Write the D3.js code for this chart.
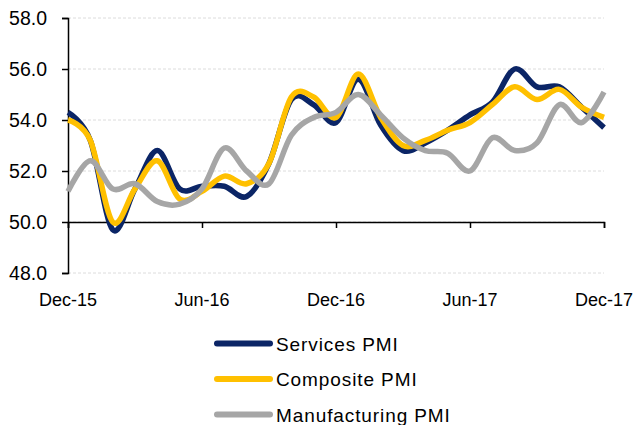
<!DOCTYPE html>
<html>
<head>
<meta charset="utf-8">
<script src="https://cdn.jsdelivr.net/npm/d3@7"></script>
<style>
  body { margin: 0; background: #fff; }
  text { font-family: Arial, "Liberation Sans", sans-serif; fill: #000; }
</style>
</head>
<body>
<div id="chart"></div>
<script>

// months shown on the x axis
var months = ['Dec-15','Jan-16','Feb-16','Mar-16','Apr-16','May-16','Jun-16','Jul-16','Aug-16','Sep-16','Oct-16','Nov-16',
              'Dec-16','Jan-17','Feb-17','Mar-17','Apr-17','May-17','Jun-17','Jul-17','Aug-17','Sep-17','Oct-17','Nov-17','Dec-17']
var tickLabels = ['Dec-15','Jun-16','Dec-16','Jun-17','Dec-17']
var yTicks = [48, 50, 52, 54, 56, 58]

// series values
var services      = [54.3,53.2,49.7,51.3,52.8,51.3,51.4,51.4,51.0,52.3,54.8,54.6,53.9,55.6,53.8,52.8,53.1,53.6,54.2,54.7,56.0,55.3,55.3,54.5,53.7]
var composite     = [54.0,53.2,50.0,51.3,52.4,50.9,51.2,51.8,51.5,52.3,54.9,54.9,54.1,55.8,54.1,53.0,53.2,53.6,53.9,54.6,55.3,54.8,55.2,54.5,54.1]
var manufacturing = [51.2,52.4,51.3,51.5,50.8,50.7,51.3,52.9,52.0,51.5,53.4,54.1,54.3,55.0,54.2,53.3,52.8,52.7,52.0,53.3,52.8,53.1,54.6,53.9,55.1]

var seriesNames  = ['Services PMI','Composite PMI','Manufacturing PMI']
var seriesColors = ['#0b2566','#ffc000','#a6a6a6']
var seriesData   = [services, composite, manufacturing]

var W = 641, H = 425
var pLeft = 68, pRight = 604, pTop = 18, pBottom = 273

var svg = d3.select('#chart').append('svg')
    .attr('width', W)
    .attr('height', H)

var x = d3.scalePoint().domain(months).range([pLeft, pRight])
var y = d3.scaleLinear().domain([48, 58]).range([pBottom, pTop])

// gridlines
svg.append('g')
  .selectAll('line')
  .data(yTicks)
  .join('line')
    .attr('x1', pLeft)
    .attr('x2', pRight)
    .attr('y1', d => y(d))
    .attr('y2', d => y(d))
    .attr('stroke', '#dcdcdc')
    .attr('stroke-width', 1)
    .attr('stroke-dasharray', '3,2')

// y axis
var yAxis = svg.append('g')
    .attr('transform', 'translate(' + pLeft + ',0)')
    .call(d3.axisLeft(y).tickValues(yTicks).tickFormat(d3.format('.1f')).tickSize(6).tickPadding(15))
yAxis.select('.domain').attr('stroke', '#000').attr('stroke-width', 1.5)
yAxis.selectAll('.tick line').attr('stroke', '#000').attr('stroke-width', 1.5)
yAxis.selectAll('text').attr('font-size', 19.5).attr('fill', '#000')
  .attr('font-family', 'Arial, "Liberation Sans", sans-serif')

// x axis sits on the 50 line
var xAxis = svg.append('g')
    .attr('transform', 'translate(0,' + y(50) + ')')
    .call(d3.axisBottom(x).tickValues(tickLabels).tickSize(6).tickFormat(''))
xAxis.select('.domain').attr('stroke', '#000').attr('stroke-width', 1.5)
xAxis.selectAll('.tick line').attr('stroke', '#000').attr('stroke-width', 1.5)

// x labels at the bottom
svg.append('g')
  .selectAll('text')
  .data(tickLabels)
  .join('text')
    .attr('x', d => x(d))
    .attr('y', 306)
    .attr('text-anchor', 'middle')
    .attr('font-size', 18)
    .text(d => d)

// lines
var line = d3.line()
    .x((d, i) => x(months[i]))
    .y(d => y(d))
    .curve(d3.curveCardinal.tension(0))

for (i in seriesData) {
  svg.append('path')
    .attr('d', line(seriesData[i]))
    .attr('fill', 'none')
    .attr('stroke', seriesColors[i])
    .attr('stroke-width', 5.5)
    .attr('stroke-linejoin', 'round')
}

// legend
var ly = [343.5, 379, 414.5]
for (i in seriesNames) {
  svg.append('line')
    .attr('x1', 217)
    .attr('x2', 270)
    .attr('y1', ly[i])
    .attr('y2', ly[i])
    .attr('stroke', seriesColors[i])
    .attr('stroke-width', 6)
    .attr('stroke-linecap', 'round')

  svg.append('text')
    .attr('x', 276)
    .attr('y', ly[i] + 7)
    .attr('font-size', 19)
    .attr('letter-spacing', 0.9)
    .text(seriesNames[i])
}

</script>
</body>
</html>
